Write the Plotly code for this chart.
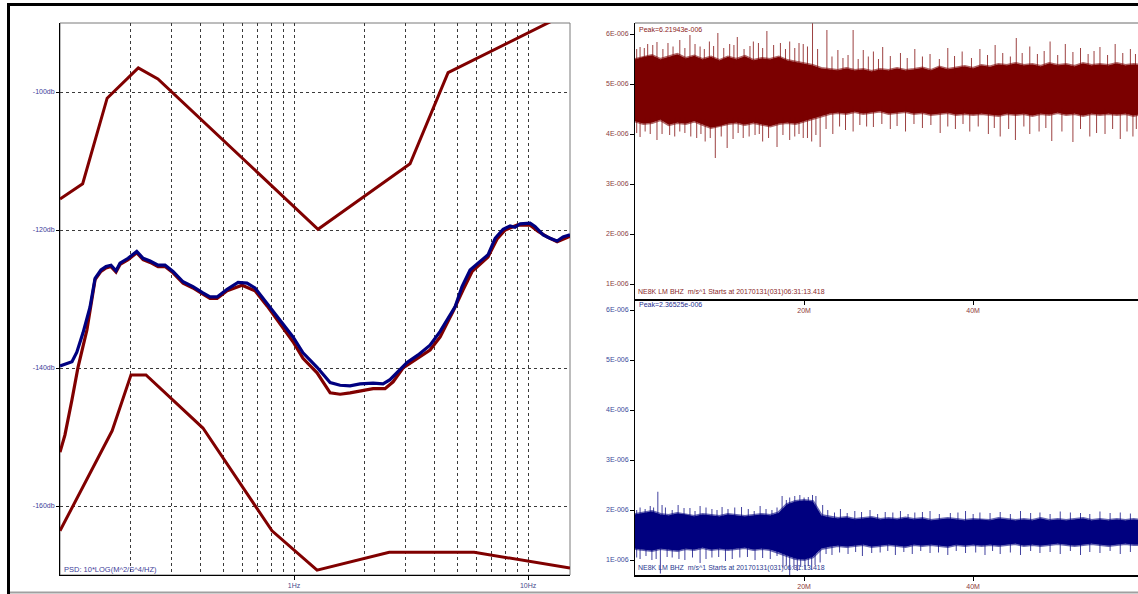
import numpy as np
import plotly.graph_objects as go

# ---------------- PSD panel data (frequency in Hz, level in dB) ----------------
nhnm_f = [0.1, 0.125, 0.159, 0.216, 0.262, 1.266, 3.13, 4.55, 15.1]
nhnm_db = [-115.5, -113.3, -100.9, -96.5, -98.1, -119.9, -110.4, -97.2, -88.4]

nlnm_f = [0.1, 0.167, 0.201, 0.233, 0.408, 0.805, 1.254, 2.55, 5.88, 15.1]
nlnm_db = [-163.6, -149.1, -141.0, -141.0, -148.7, -163.6, -169.3, -166.7, -166.7, -169.0]

psd_red_f = [0.1, 0.105, 0.1125, 0.1194, 0.1303, 0.1412, 0.1496, 0.1573, 0.1652, 0.1735,
             0.1805, 0.1954, 0.2128, 0.2265, 0.2427, 0.2624, 0.2811, 0.304, 0.3355, 0.370,
             0.408, 0.4375, 0.469, 0.5176, 0.5998, 0.681, 0.767, 0.871, 0.99, 1.092,
             1.254, 1.426, 1.573, 1.735, 1.972, 2.176, 2.447, 2.65, 2.92, 3.36,
             3.81, 4.21, 4.78, 5.27, 5.77, 6.74, 7.37, 7.98, 8.97, 10.2,
             11.04, 12.06, 13.3, 15.1]
psd_red_db = [-152.2, -149.7, -144.6, -139.9, -134.5, -127.2, -126.0, -125.5, -125.3, -126.1,
              -125.0, -124.3, -123.3, -124.3, -124.7, -125.3, -125.3, -126.2, -127.7, -128.4,
              -129.3, -129.9, -129.9, -128.8, -128.0, -128.8, -131.0, -133.6, -136.2, -138.6,
              -140.7, -143.6, -143.8, -143.6, -143.3, -143.0, -143.0, -142.0, -140.0, -138.7,
              -137.4, -135.5, -131.8, -128.7, -126.0, -123.9, -121.3, -120.0, -119.3, -119.3,
              -120.2, -121.0, -121.7, -120.9]

psd_blue_f = [0.1, 0.106, 0.1125, 0.118, 0.1254, 0.1343, 0.1412, 0.1496, 0.1573, 0.1652,
              0.1735, 0.1805, 0.1954, 0.2128, 0.2265, 0.2427, 0.2624, 0.2811, 0.304, 0.3355,
              0.370, 0.408, 0.4375, 0.469, 0.5176, 0.5765, 0.6295, 0.681, 0.767, 0.871,
              0.99, 1.092, 1.254, 1.426, 1.573, 1.735, 1.914, 2.176, 2.40, 2.57,
              2.755, 3.04, 3.39, 3.81, 4.21, 4.55, 4.88, 5.22, 5.65, 6.11,
              6.74, 7.23, 7.82, 8.38, 8.79, 9.25, 10.2, 10.7, 11.6, 12.4,
              13.3, 14.1, 15.1]
psd_blue_db = [-139.7, -139.4, -139.1, -137.7, -134.9, -131.2, -127.0, -125.8, -125.3, -125.1,
               -125.9, -124.8, -124.1, -123.1, -124.1, -124.5, -125.1, -125.1, -126.0, -127.5,
               -128.2, -129.1, -129.7, -129.7, -128.6, -127.6, -127.7, -128.4, -130.6, -133.0,
               -135.5, -137.8, -139.9, -142.1, -142.5, -142.6, -142.3, -142.2, -142.3, -141.7,
               -140.7, -139.2, -138.1, -136.7, -134.7, -132.8, -131.1, -128.2, -125.8, -124.8,
               -123.6, -121.2, -119.9, -119.4, -119.6, -119.1, -119.0, -119.5, -120.7, -121.2,
               -121.6, -121.0, -120.7]

psd_ytick_vals = [-160, -140, -120, -100]
psd_ytick_text = ["-160db", "-140db", "-120db", "-100db"]
psd_xtick_vals = [1, 10]
psd_xtick_text = ["1Hz", "10Hz"]
psd_minor_vals = [0.2, 0.3, 0.4, 0.5, 0.6, 0.7, 0.8, 0.9, 2, 3, 4, 5, 6, 7, 8, 9]

# ---------------- Waveform data (time in minutes, amplitude in units of 1e-6 m/s) ----------------
wave_t = list(range(61))

bhz1_top = [5.48, 5.53, 5.56, 5.48, 5.53, 5.58, 5.50, 5.55, 5.48, 5.53, 5.46, 5.53, 5.48, 5.54, 5.46,
            5.50, 5.48, 5.53, 5.46, 5.43, 5.40,
            5.36, 5.30, 5.28, 5.26, 5.30, 5.26, 5.28, 5.24, 5.28, 5.26, 5.30, 5.26, 5.28, 5.31,
            5.26, 5.33, 5.28, 5.31, 5.34, 5.30,
            5.36, 5.33, 5.38, 5.36, 5.40, 5.36, 5.38, 5.34, 5.40, 5.36, 5.38, 5.34, 5.40, 5.36,
            5.38, 5.36, 5.40, 5.36, 5.38, 5.36]
bhz1_bot = [4.27, 4.22, 4.24, 4.30, 4.20, 4.24, 4.22, 4.27, 4.20, 4.14, 4.17, 4.22, 4.24, 4.20, 4.24,
            4.20, 4.17, 4.22, 4.24, 4.22, 4.27,
            4.32, 4.37, 4.42, 4.44, 4.42, 4.46, 4.42, 4.44, 4.47, 4.42, 4.44, 4.46, 4.42, 4.44,
            4.40, 4.42, 4.44, 4.40, 4.42, 4.40,
            4.42, 4.40, 4.38, 4.42, 4.40, 4.42, 4.38, 4.42, 4.40, 4.44, 4.40, 4.42, 4.38, 4.42,
            4.40, 4.42, 4.40, 4.42, 4.38, 4.42]
bhz1_up_t = [0.6, 1.5, 2.6, 3.9, 5.3, 6.5, 7.7, 8.8, 9.8, 11.2, 12.1, 13.6, 14.6, 15.6, 17.2, 18.3,
             19.9, 21.0, 22.7, 24.0, 25.8, 27.0, 28.2, 29.3, 31.4, 33.1, 34.9, 37.0, 38.7, 40.8,
             42.6, 45.1, 46.7, 49.1, 50.9, 52.7, 55.0, 56.8, 58.6,
             0.2, 1.1, 2.1, 3.3, 4.5, 5.9, 7.1, 8.2, 9.3, 10.5, 11.7, 12.9, 14.0, 15.1, 16.4, 17.8,
             18.9, 19.4, 20.4, 21.6, 23.3, 24.6, 25.2, 26.4, 27.6, 28.8, 30.2, 32.2, 34.0, 36.0,
             37.8, 39.8, 41.7, 43.5, 44.4, 45.8, 47.6, 48.4, 50.0, 51.8, 53.6, 54.3, 55.9, 57.7, 59.2]
bhz1_up_v = [5.74, 5.80, 5.84, 5.82, 5.88, 5.98, 5.75, 5.85, 6.02, 5.80, 5.94, 5.76, 5.82, 6.06, 5.82, 5.85,
             5.80, 6.219, 6.08, 5.68, 6.08, 5.68, 5.65, 5.74, 5.62, 5.70, 5.60, 5.72, 5.65, 5.70,
             5.78, 5.92, 5.75, 5.85, 5.80, 5.72, 5.74, 5.80, 5.70,
             5.70, 5.72, 5.78, 5.70, 5.75, 5.72, 5.80, 5.70, 5.76, 5.72, 5.78, 5.70, 5.85, 5.72, 5.78, 5.70,
             5.72, 5.82, 5.75, 5.70, 5.55, 5.52, 5.58, 5.50, 5.55, 5.50, 5.56, 5.52, 5.55, 5.50,
             5.56, 5.52, 5.58, 5.62, 5.55, 5.62, 5.60, 5.66, 5.58, 5.64, 5.60, 5.66, 5.58, 5.62, 5.60]
bhz1_dn_t = [0.6, 1.8, 2.6, 4.7, 5.9, 7.3, 8.3, 9.5, 10.9, 12.8, 14.2, 15.1, 16.8, 18.3, 19.9, 20.9,
             21.9, 23.4, 24.9, 25.8, 28.2, 30.2, 32.0, 34.0, 36.1, 37.9, 39.6, 41.8, 43.2, 45.0,
             46.7, 49.3, 51.8, 53.8, 55.6, 57.4, 58.9,
             0.2, 1.2, 3.2, 4.1, 5.3, 6.6, 7.8, 8.9, 10.2, 11.6, 12.2, 13.5, 14.7, 15.8, 17.5, 18.9,
             19.4, 20.4, 21.4, 22.6, 24.2, 26.6, 27.4, 29.2, 31.0, 33.0, 35.0, 37.0, 38.8, 40.6,
             42.5, 44.2, 46.0, 47.8, 48.6, 50.5, 52.7, 54.6, 56.5, 58.2, 59.3]
bhz1_dn_v = [3.94, 4.00, 3.88, 3.95, 4.02, 3.92, 3.85, 3.52, 3.72, 3.92, 3.98, 3.85, 3.74, 3.88, 3.92, 3.85,
             3.74, 4.00, 4.08, 4.05, 4.14, 4.10, 4.05, 4.12, 4.02, 4.10, 4.05, 4.00, 3.95, 3.88,
             4.00, 3.86, 3.84, 3.95, 4.00, 3.90, 3.95,
             4.02, 4.05, 4.00, 3.98, 4.05, 3.95, 4.00, 3.92, 3.95, 3.90, 4.02, 3.95, 4.00, 3.92, 3.98, 3.95,
             4.00, 3.92, 3.98, 4.10, 4.15, 4.18, 4.15, 4.20, 4.16, 4.20, 4.18, 4.15, 4.20, 4.15,
             4.12, 4.10, 4.15, 4.05, 4.12, 4.05, 4.10, 4.02, 4.10, 4.05, 4.10]

bhz2_top = [1.90, 1.93, 1.96, 1.90, 1.88, 1.92, 1.90, 1.86, 1.90, 1.88, 1.86, 1.90, 1.88, 1.86, 1.88,
            1.90, 1.88, 1.93,
            2.10, 2.16, 2.18, 2.16,
            1.88,
            1.84, 1.82, 1.84, 1.80, 1.82, 1.84, 1.80, 1.82, 1.80, 1.83, 1.80, 1.82, 1.78, 1.80,
            1.82, 1.80, 1.78, 1.80,
            1.80, 1.78, 1.82, 1.80, 1.78, 1.80, 1.78, 1.82, 1.78, 1.80, 1.78, 1.80, 1.82, 1.78,
            1.80, 1.78, 1.80, 1.78, 1.80, 1.78]
bhz2_bot = [1.24, 1.22, 1.20, 1.24, 1.22, 1.20, 1.24, 1.22, 1.26, 1.22, 1.24, 1.22, 1.24, 1.26, 1.22,
            1.24, 1.22, 1.17,
            1.10, 1.04, 1.02, 1.07,
            1.24,
            1.28, 1.30, 1.28, 1.30, 1.32, 1.28, 1.30, 1.32, 1.30, 1.28, 1.32, 1.30, 1.32, 1.30,
            1.28, 1.32, 1.30, 1.32,
            1.30, 1.32, 1.30, 1.32, 1.34, 1.30, 1.32, 1.30, 1.32, 1.34, 1.32, 1.30, 1.32, 1.34,
            1.32, 1.30, 1.32, 1.34, 1.32, 1.32]
bhz2_up_t = [0.6, 1.8, 2.7, 3.6, 5.1, 6.5, 7.7, 9.1, 10.3, 11.8, 13.4, 14.8, 16.2, 17.4, 18.3, 19.5,
             20.5, 21.4, 22.8, 24.3, 26.0, 27.8, 29.6, 31.4, 33.1, 34.9, 37.3, 39.1, 40.8, 43.2,
             45.6, 47.9, 50.3, 52.7, 55.0, 57.4,
             0.2, 1.2, 2.2, 3.2, 4.4, 5.8, 7.1, 8.4, 9.7, 11.0, 12.6, 14.1, 15.5, 16.8, 17.9, 18.9,
             20.0, 21.0, 22.2, 23.6, 25.1, 26.8, 28.7, 30.5, 32.3, 34.0, 36.0, 38.2, 40.0, 42.0,
             44.4, 46.8, 49.1, 51.5, 53.8, 56.2, 58.6]
bhz2_up_v = [2.05, 2.08, 2.365, 2.05, 2.10, 2.04, 2.08, 2.02, 2.06, 2.05, 2.02, 2.08, 2.00, 2.28, 2.25, 2.30,
             2.26, 2.28, 2.00, 2.02, 1.98, 2.00, 1.96, 1.98, 1.95, 1.98, 1.94, 1.98, 1.95, 1.96,
             1.98, 1.95, 1.97, 1.94, 1.97, 1.95,
             2.00, 2.02, 2.05, 2.10, 2.00, 2.04, 1.98, 2.05, 2.00, 2.02, 2.06, 1.98, 2.02, 2.05, 2.20, 2.28,
             2.25, 2.30, 2.10, 1.95, 1.94, 1.96, 1.92, 1.95, 1.92, 1.96, 1.92, 1.95, 1.92, 1.94,
             1.92, 1.94, 1.92, 1.95, 1.92, 1.94, 1.93]
bhz2_dn_t = [0.6, 2.0, 3.0, 4.4, 5.9, 7.7, 9.1, 10.7, 12.4, 14.2, 16.0, 17.5, 18.3, 19.2, 20.1, 20.9,
             21.9, 23.3, 25.2, 26.9, 29.0, 30.8, 32.8, 34.9, 37.0, 39.1, 41.4, 43.2, 45.6, 47.9,
             50.3, 52.7, 55.0, 57.4,
             0.2, 1.3, 2.5, 3.8, 5.2, 6.8, 8.4, 9.9, 11.5, 13.3, 15.1, 16.8, 17.9, 18.8, 19.6, 20.5,
             21.3, 22.6, 24.2, 26.1, 28.0, 29.9, 31.8, 33.8, 35.9, 38.0, 40.3, 42.3, 44.4, 46.8,
             49.1, 51.5, 53.8, 56.2, 58.6]
bhz2_dn_v = [1.02, 1.00, 0.73, 1.05, 1.00, 0.94, 1.05, 0.98, 1.05, 1.00, 1.02, 0.85, 0.70, 0.78, 0.82, 0.80,
             0.95, 1.10, 1.12, 1.08, 1.15, 1.10, 1.12, 1.14, 1.10, 1.14, 1.10, 1.12, 1.10, 1.14,
             1.12, 1.10, 1.14, 1.12,
             1.05, 1.08, 1.02, 1.06, 1.02, 1.05, 1.02, 1.06, 1.02, 1.06, 1.04, 1.08, 0.90, 0.82, 0.86, 0.88,
             0.90, 1.12, 1.15, 1.16, 1.14, 1.18, 1.16, 1.18, 1.15, 1.18, 1.15, 1.18, 1.15, 1.18,
             1.16, 1.18, 1.16, 1.18, 1.16]

wave_ytick_vals = [1, 2, 3, 4, 5, 6]
wave_ytick_text = ["1E-006", "2E-006", "3E-006", "4E-006", "5E-006", "6E-006"]
wave_xtick_vals = [20, 40, 60]
wave_xtick_text = ["20M", "40M", "60M"]

label_text = "NE8K LM BHZ  m/s^1 Starts at 20170131(031)06:31:13.418"
peak1_text = "Peak=6.21943e-006"
peak2_text = "Peak=2.36525e-006"
psd_label = "PSD: 10*LOG(M^2/S^4/HZ)"

# ---------------- figure ----------------
W, H = 1138, 594
RED = "#800000"
NAVY = "#000080"
FONT = "Liberation Sans, Arial, sans-serif"

fig = go.Figure()

# PSD panel traces
fig.add_trace(go.Scatter(x=nhnm_f, y=nhnm_db, mode="lines", line=dict(color=RED, width=3),
                         xaxis="x", yaxis="y", hoverinfo="skip"))
fig.add_trace(go.Scatter(x=nlnm_f, y=nlnm_db, mode="lines", line=dict(color=RED, width=3),
                         xaxis="x", yaxis="y", hoverinfo="skip"))
fig.add_trace(go.Scatter(x=psd_red_f, y=psd_red_db, mode="lines", line=dict(color=RED, width=3.2),
                         xaxis="x", yaxis="y"))
fig.add_trace(go.Scatter(x=psd_blue_f, y=psd_blue_db, mode="lines", line=dict(color=NAVY, width=3.2),
                         xaxis="x", yaxis="y"))


def add_wave(top, bot, up_t, up_v, dn_t, dn_v, color, fuzz_color, spike_color, xa, ya):
    t = np.array(wave_t, dtype=float)
    top = np.array(top) * 1e-6
    bot = np.array(bot) * 1e-6
    # soft outline of the dense band
    fig.add_trace(go.Scatter(x=list(t) + list(t[::-1]), y=list(top) + list(bot[::-1]),
                             fill="toself", fillcolor=color, mode="lines",
                             line=dict(color=fuzz_color, width=4), xaxis=xa, yaxis=ya, hoverinfo="skip"))
    fig.add_trace(go.Scatter(x=list(t) + list(t[::-1]), y=list(top) + list(bot[::-1]),
                             fill="toself", fillcolor=color, mode="lines",
                             line=dict(color=color, width=1), xaxis=xa, yaxis=ya, hoverinfo="skip"))
    xs, ys = [], []
    for tt, v in zip(up_t, up_v):
        b = float(np.interp(tt, t, top))
        xs += [tt, tt, None]
        ys += [b - 0.1e-6, v * 1e-6, None]
    for tt, v in zip(dn_t, dn_v):
        b = float(np.interp(tt, t, bot))
        xs += [tt, tt, None]
        ys += [b + 0.1e-6, v * 1e-6, None]
    fig.add_trace(go.Scatter(x=xs, y=ys, mode="lines", line=dict(color=spike_color, width=1),
                             xaxis=xa, yaxis=ya, hoverinfo="skip"))


add_wave(bhz1_top, bhz1_bot, bhz1_up_t, bhz1_up_v, bhz1_dn_t, bhz1_dn_v,
         "#7b0000", "rgba(123,0,0,0.6)", "rgba(123,0,0,0.75)", "x2", "y2")
add_wave(bhz2_top, bhz2_bot, bhz2_up_t, bhz2_up_v, bhz2_dn_t, bhz2_dn_v,
         "#00007f", "rgba(0,0,127,0.6)", "rgba(0,0,127,0.75)", "x3", "y3")


def px_x(p):
    return p / W


def px_y(p):
    return 1 - p / H


grid = dict(gridcolor="#3a3a3a", gridwidth=1, griddash="3px,3px")
tickf = dict(family=FONT, size=7)

wave_rng = [0.7e-6, 6.22e-6]

fig.update_layout(
    width=W, height=H, autosize=False,
    margin=dict(l=0, r=0, t=0, b=0),
    paper_bgcolor="white", plot_bgcolor="white",
    showlegend=False,
    xaxis=dict(domain=[px_x(60), px_x(570)], type="log", range=[-1, np.log10(15.1)],
               tickmode="array", tickvals=psd_xtick_vals, ticktext=psd_xtick_text,
               ticks="outside", ticklen=4, tickcolor="black", tickfont=dict(tickf, color="#4a4a8c"),
               showline=True, linecolor="black", linewidth=1, showgrid=True, zeroline=False,
               minor=dict(tickmode="array", tickvals=psd_minor_vals, showgrid=True, ticks="", **grid),
               anchor="y", **grid),
    yaxis=dict(domain=[px_y(575), px_y(23)], range=[-170, -90],
               tickmode="array", tickvals=psd_ytick_vals, ticktext=psd_ytick_text,
               ticks="outside", ticklen=3, tickcolor="black", tickfont=dict(tickf, color="#3d3d99"),
               showline=True, linecolor="black", linewidth=1, showgrid=True, zeroline=False,
               anchor="x", **grid),
    xaxis2=dict(domain=[px_x(635), 1.0], range=[0, 59.5], tickmode="array",
                tickvals=wave_xtick_vals, ticktext=wave_xtick_text, ticks="outside", ticklen=4,
                tickcolor="black", tickfont=dict(tickf, color="#8b3a3a"),
                showline=True, linecolor="black", linewidth=1.5, showgrid=False, zeroline=False,
                anchor="y2"),
    yaxis2=dict(domain=[px_y(299), px_y(23)], range=wave_rng, tickmode="array",
                tickvals=[v * 1e-6 for v in wave_ytick_vals], ticktext=wave_ytick_text,
                ticks="outside", ticklen=4, tickcolor="black", tickfont=dict(tickf, color="#8b4040"),
                showline=True, linecolor="black", linewidth=1, showgrid=False, zeroline=False,
                anchor="x2"),
    xaxis3=dict(domain=[px_x(635), 1.0], range=[0, 59.5], tickmode="array",
                tickvals=wave_xtick_vals, ticktext=wave_xtick_text, ticks="outside", ticklen=4,
                tickcolor="black", tickfont=dict(tickf, color="#8b3a3a"),
                showline=True, linecolor="black", linewidth=1.5, showgrid=False, zeroline=False,
                anchor="y3"),
    yaxis3=dict(domain=[px_y(575), px_y(299)], range=wave_rng, tickmode="array",
                tickvals=[v * 1e-6 for v in wave_ytick_vals], ticktext=wave_ytick_text,
                ticks="outside", ticklen=4, tickcolor="black", tickfont=dict(tickf, color="#3a4a9a"),
                showline=True, linecolor="black", linewidth=1, showgrid=False, zeroline=False,
                anchor="x3"),
)

# borders
fig.add_shape(type="rect", xref="x domain", yref="y domain", x0=0, x1=1, y0=0, y1=1,
              line=dict(color="#7a7a7a", width=1), layer="below")
fig.add_shape(type="line", xref="paper", yref="paper", x0=px_x(635), x1=1, y0=px_y(23), y1=px_y(23),
              line=dict(color="#6a6a6a", width=1))
# outer frame
fig.add_shape(type="line", xref="paper", yref="paper", x0=px_x(7.5), x1=1.01, y0=px_y(4.5), y1=px_y(4.5),
              line=dict(color="black", width=3))
fig.add_shape(type="line", xref="paper", yref="paper", x0=px_x(8.5), x1=px_x(8.5), y0=px_y(594), y1=px_y(3),
              line=dict(color="black", width=3))
fig.add_shape(type="line", xref="paper", yref="paper", x0=px_x(10), x1=1.01, y0=px_y(592.5), y1=px_y(592.5),
              line=dict(color="#a0a0a0", width=2))

ann = dict(xref="paper", yref="paper", showarrow=False, xanchor="left", yanchor="middle")
fig.add_annotation(text=psd_label, x=px_x(62), y=px_y(569), font=dict(family=FONT, size=7.5, color="#3d3d99"), **ann)
fig.add_annotation(text=peak1_text, x=px_x(637), y=px_y(29), font=dict(family=FONT, size=7, color="#8b1a1a"), **ann)
fig.add_annotation(text=label_text, x=px_x(636), y=px_y(292), font=dict(family=FONT, size=7, color="#8b2a2a"), **ann)
fig.add_annotation(text=peak2_text, x=px_x(637), y=px_y(304), font=dict(family=FONT, size=7, color="#1f2f8f"), **ann)
fig.add_annotation(text=label_text, x=px_x(636), y=px_y(568), font=dict(family=FONT, size=7, color="#2a3a8f"), **ann)

fig.write_html("out.html")
